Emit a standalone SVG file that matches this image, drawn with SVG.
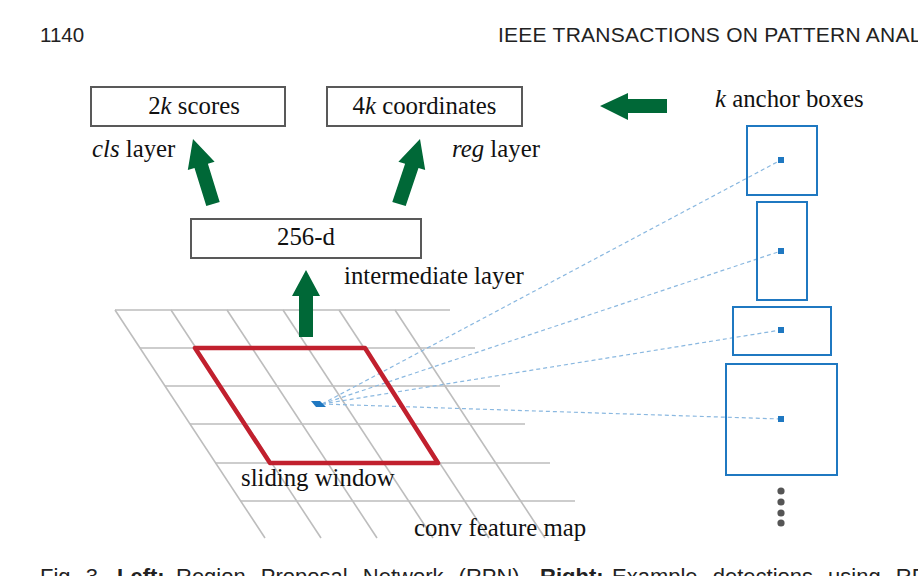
<svg xmlns="http://www.w3.org/2000/svg" width="918" height="576" viewBox="0 0 918 576">
<style>
.hdr{font-family:"Liberation Sans",Arial,sans-serif;font-size:20.5px;fill:#222}
.cap{font-family:"Liberation Sans",Arial,sans-serif;font-size:22px;fill:#222}
.t{font-family:"Liberation Serif","Times New Roman",serif;font-size:24.8px;fill:#111}
.box{fill:#fff;stroke:#595959;stroke-width:2}
.grid line{stroke:#bdbdbd;stroke-width:1.6}
.green{fill:#006837}
.anchor{fill:none;stroke:#1f78c1;stroke-width:2}
.ctr{fill:#1f78c1}
.dash{stroke:#8ab8e0;stroke-width:1.2;stroke-dasharray:4 3;fill:none}
.dots circle{fill:#555}
</style>
<text class="hdr" x="40" y="42">1140</text>
<text class="hdr" x="498" y="42" style="font-size:21px;letter-spacing:0.25px">IEEE TRANSACTIONS ON PATTERN ANALYSIS</text>

<g id="feature-map" class="grid">
<line x1="115" y1="310" x2="450" y2="310"/>
<line x1="140" y1="348" x2="475" y2="348"/>
<line x1="165" y1="386" x2="500" y2="386"/>
<line x1="190" y1="424" x2="525" y2="424"/>
<line x1="215" y1="463" x2="550" y2="463"/>
<line x1="240" y1="501" x2="575" y2="501"/>
<line x1="115" y1="310" x2="265" y2="538"/>
<line x1="171" y1="310" x2="321" y2="538"/>
<line x1="227" y1="310" x2="377" y2="538"/>
<line x1="283" y1="310" x2="433" y2="538"/>
<line x1="339" y1="310" x2="489" y2="538"/>
<line x1="395" y1="310" x2="545" y2="538"/>
</g>

<g id="connectors">
<line class="dash" x1="322" y1="404" x2="781" y2="160"/>
<line class="dash" x1="322" y1="404" x2="781" y2="251"/>
<line class="dash" x1="322" y1="404" x2="781" y2="330"/>
<line class="dash" x1="322" y1="404" x2="781" y2="419"/>
<polygon class="green" points="193,139 214.6,161.7 207.9,163.7 219.7,201.9 206.3,206.1 194.5,167.9 187.8,169.9"/>
<polygon class="green" points="420,139 425.2,169.9 418.5,167.9 405.7,206.1 392.3,201.9 405.1,163.7 398.4,161.7"/>
<polygon class="green" points="306,270 320,296 313,296 313,337 299,337 299,296 292,296"/>
<polygon class="green" points="600,106 628,93 628,99 667,99 667,113 628,113 628,120"/>
</g>

<g id="sliding-window">
<polygon points="195,348 365,348 438,463 270,463" fill="none" stroke="#c1202e" stroke-width="4.5" stroke-linejoin="round"/>
<polygon points="311,401 320,401 326,407 316,407" class="ctr"/>
<text class="t" x="241" y="486">sliding window</text>
</g>
<text class="t" x="414" y="536">conv feature map</text>

<g id="scores">
<rect class="box" x="91" y="87" width="194" height="39"/>
<text class="t" x="194" y="114" text-anchor="middle">2<tspan font-style="italic">k</tspan> scores</text>
</g>
<text class="t" x="92" y="157"><tspan font-style="italic">cls</tspan> layer</text>

<g id="coordinates">
<rect class="box" x="327" y="87" width="195" height="39"/>
<text class="t" x="424.5" y="114" text-anchor="middle">4<tspan font-style="italic">k</tspan> coordinates</text>
</g>
<text class="t" x="452" y="157"><tspan font-style="italic">reg</tspan> layer</text>

<g id="intermediate">
<rect class="box" x="191" y="219" width="230" height="39"/>
<text class="t" x="306" y="245" text-anchor="middle">256-d</text>
</g>
<text class="t" x="344" y="284">intermediate layer</text>

<g id="anchors">
<text class="t" x="715" y="107"><tspan font-style="italic">k</tspan> anchor boxes</text>
<rect class="anchor" x="747" y="126" width="70" height="69"/>
<rect class="ctr" x="778" y="157" width="6" height="6"/>
<rect class="anchor" x="757" y="202" width="50" height="98"/>
<rect class="ctr" x="778" y="248" width="6" height="6"/>
<rect class="anchor" x="733" y="307" width="98" height="48"/>
<rect class="ctr" x="778" y="327" width="6" height="6"/>
<rect class="anchor" x="726" y="364" width="111" height="111"/>
<rect class="ctr" x="778" y="416" width="6" height="6"/>
<g class="dots">
<circle cx="781" cy="491" r="3.6"/>
<circle cx="781" cy="502" r="3.6"/>
<circle cx="781" cy="513" r="3.6"/>
<circle cx="781" cy="523" r="3.6"/>
</g>
</g>

<text class="cap" y="584" style="word-spacing:9px"><tspan x="40" style="word-spacing:3px">Fig. 3.</tspan><tspan x="117" font-weight="bold">Left:</tspan><tspan x="176">Region Proposal Network (RPN).</tspan><tspan x="540" font-weight="bold">Right:</tspan><tspan x="612">Example detections using RPN</tspan></text>
</svg>
